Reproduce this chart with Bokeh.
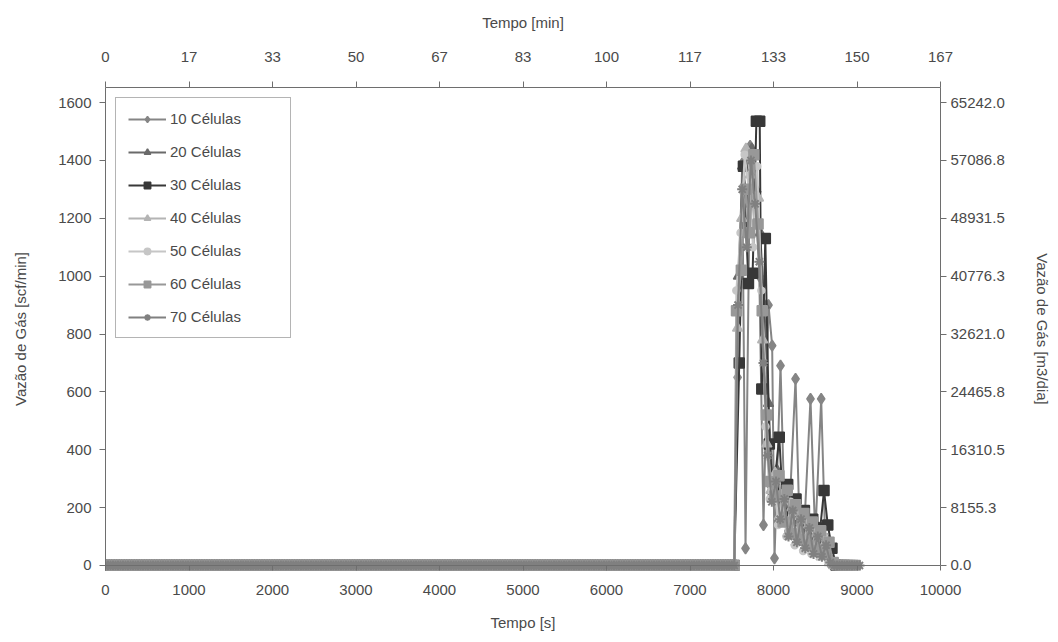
from bokeh.plotting import figure
from bokeh.models import LinearAxis, FixedTicker, Range1d, Legend, LegendItem, Span
from bokeh.embed import file_html
from bokeh.resources import INLINE

# ---- data -------------------------------------------------------------
# Before the gas reaches the surface every case stays at zero flow (s)
baseline_t = list(range(0, 7531, 30))

names = ["10 Células", "20 Células", "30 Células", "40 Células",
         "50 Células", "60 Células", "70 Células"]

# Gas flow rate during the unloading burst [scf/min] vs time [s]
t10 = [7570, 7625, 7665, 7720, 7780, 7830, 7880, 7940, 7984, 8012, 8084, 8130,
       8180, 8264, 8310, 8360, 8443, 8500, 8571, 8620, 8660, 8700]
q10 = [650, 1390, 59, 1450, 1300, 1000, 140, 900, 760, 25, 691, 200,
       120, 645, 150, 80, 576, 100, 576, 80, 30, 0]

t20 = [7580, 7630, 7690, 7740, 7790, 7840, 7890, 7940, 7990, 8040, 8090, 8140,
       8190, 8240, 8290, 8340, 8390, 8440, 8490, 8540, 8590, 8640, 8690, 8740]
q20 = [1000, 1380, 1250, 1440, 1300, 1150, 900, 560, 280, 330, 180, 260,
       120, 210, 90, 180, 70, 150, 60, 130, 40, 90, 20, 0]

t30 = [7590, 7640, 7700, 7750, 7795, 7835, 7860, 7902, 7950, 8000, 8069, 8120,
       8170, 8220, 8270, 8320, 8370, 8420, 8470, 8520, 8560, 8605, 8650, 8700, 8750]
q30 = [700, 1380, 975, 1010, 1535, 1535, 610, 1130, 420, 250, 443, 180,
       280, 120, 230, 90, 190, 70, 160, 60, 130, 259, 140, 60, 0]

t40 = [7570, 7620, 7670, 7720, 7770, 7820, 7870, 7920, 7970, 8020, 8070, 8120,
       8170, 8220, 8270, 8320, 8370, 8420, 8470, 8520, 8570, 8620, 8670, 8720]
q40 = [820, 1200, 1440, 1350, 1180, 1270, 780, 420, 260, 320, 170, 240,
       110, 200, 80, 170, 60, 140, 50, 110, 30, 80, 10, 0]

t50 = [7555, 7605, 7655, 7705, 7755, 7805, 7855, 7905, 7955, 8005, 8055, 8105,
       8155, 8205, 8255, 8305, 8355, 8405, 8455, 8505, 8555, 8605, 8655, 8710]
q50 = [950, 1150, 1420, 1300, 1100, 1380, 950, 480, 230, 300, 140, 250,
       100, 220, 70, 180, 50, 150, 40, 120, 30, 100, 15, 0]

t60 = [7557, 7615, 7665, 7715, 7765, 7815, 7865, 7915, 7965, 8015, 8065, 8115,
       8165, 8215, 8265, 8315, 8365, 8415, 8465, 8515, 8565, 8615, 8665, 8715, 8770]
q60 = [880, 1020, 1300, 1150, 1420, 1180, 880, 520, 290, 240, 310, 150,
       260, 110, 210, 90, 180, 70, 150, 50, 120, 40, 80, 10, 0]

t70 = [7575, 7625, 7680, 7730, 7780, 7830, 7880, 7930, 7980, 8030, 8080, 8130,
       8180, 8230, 8280, 8330, 8380, 8430, 8480, 8530, 8580, 8630, 8680, 8730]
q70 = [900, 1300, 1100, 1400, 1250, 1050, 700, 380, 220, 290, 160, 230,
       100, 190, 80, 160, 60, 130, 40, 100, 30, 70, 10, 0]

# last time of each run (flow back at zero after the burst)
end_t = [8760, 8800, 8850, 8900, 8950, 9000, 9040]

# axis tick labels
x_ticks = [0, 1000, 2000, 3000, 4000, 5000, 6000, 7000, 8000, 9000, 10000]
min_labels = ["0", "17", "33", "50", "67", "83", "100", "117", "133", "150", "167"]
y_ticks = [0, 200, 400, 600, 800, 1000, 1200, 1400, 1600]
m3_labels = ["0.0", "8155.3", "16310.5", "24465.8", "32621.0",
             "40776.3", "48931.5", "57086.8", "65242.0"]

burst_t = [t10, t20, t30, t40, t50, t60, t70]
burst_q = [q10, q20, q30, q40, q50, q60, q70]

# ---- styles -----------------------------------------------------------
colors = ["#858585", "#6a6a6a", "#383838", "#b4b4b4", "#c6c6c6", "#989898", "#808080"]
markers = ["diamond", "triangle", "square", "triangle", "circle", "square", "asterisk"]
sizes = [11, 10, 10, 10, 7, 10, 10]
widths = [1.5, 1.5, 1.5, 1.5, 1.5, 1.5, 2]

FONT = "Liberation Sans"
TXT = "#4a4a4a"
AX = "#6e6e6e"
Y_TOP = 1652

# the range dips a little below zero so the markers sitting on the
# zero line are drawn whole; the zero line itself is a Span
p = figure(width=1058, height=642, x_range=Range1d(0, 10000), y_range=Range1d(-17.3, Y_TOP),
           output_backend="svg", toolbar_location=None,
           min_border_left=105, min_border_right=118, min_border_top=87, min_border_bottom=72)
p.xgrid.visible = False
p.ygrid.visible = False
p.outline_line_color = None
p.background_fill_color = "white"
p.border_fill_color = "white"

items = []
for i, name in enumerate(names):
    tail = [t for t in range(burst_t[i][-1] + 30, end_t[i] + 1, 30)]
    xs = baseline_t + burst_t[i] + tail
    ys = [0] * len(baseline_t) + burst_q[i] + [0] * len(tail)
    lr = p.line(xs, ys, line_color=colors[i], line_width=2)
    sr = p.scatter(xs, ys, marker=markers[i], size=sizes[i],
                   fill_color=colors[i], line_color=colors[i], line_width=widths[i])
    items.append(LegendItem(label=name, renderers=[lr, sr]))

p.add_layout(Span(location=0, dimension="width", line_color=AX, line_width=1.2))

legend = Legend(items=items, location="top_left", margin=10, padding=12,
                spacing=16, glyph_width=38, glyph_height=16, label_height=16,
                label_width=108, label_standoff=4,
                label_text_font=FONT, label_text_font_size="15px", label_text_color=TXT,
                border_line_color="#6a6a6a", border_line_width=1,
                background_fill_color="white")
p.add_layout(legend)


def style(ax, title, ticks, labels, tick_standoff, title_standoff):
    ax.ticker = FixedTicker(ticks=ticks)
    ax.major_label_overrides = {t: l for t, l in zip(ticks, labels)}
    ax.axis_label = title
    ax.axis_label_text_font = FONT
    ax.axis_label_text_font_size = "15px"
    ax.axis_label_text_font_style = "normal"
    ax.axis_label_text_color = TXT
    ax.axis_label_standoff = title_standoff
    ax.major_label_text_font = FONT
    ax.major_label_text_font_size = "15px"
    ax.major_label_text_color = TXT
    ax.major_label_standoff = tick_standoff
    ax.axis_line_color = AX
    ax.major_tick_line_color = AX
    ax.major_tick_out = 6
    ax.major_tick_in = 0
    ax.minor_tick_line_color = None


bottom = p.xaxis[0]
style(bottom, "Tempo [s]", x_ticks, [str(t) for t in x_ticks], 14, 16)
bottom.axis_line_color = None
bottom.major_tick_out = 0
bottom.major_tick_in = 5

left = p.yaxis[0]
style(left, "Vazão de Gás [scf/min]", y_ticks, [str(v) for v in y_ticks], 8, 26)
left.bounds = (0, Y_TOP)

top = LinearAxis()
style(top, "Tempo [min]", x_ticks, min_labels, 20, 18)
p.add_layout(top, "above")

right = LinearAxis(bounds=(0, Y_TOP))
style(right, "Vazão de Gás [m3/dia]", y_ticks, m3_labels, 4, 26)
p.add_layout(right, "right")

open("out.html", "w").write(file_html(p, INLINE))
